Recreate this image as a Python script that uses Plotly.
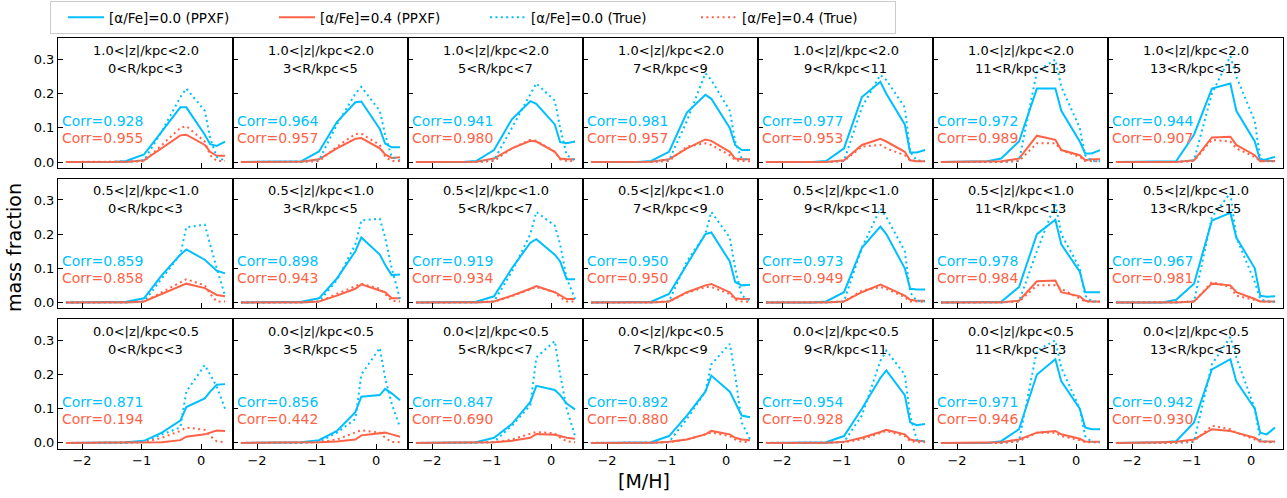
import plotly.graph_objects as go

# ---------------- data ----------------
MH = [-2.27, -1.79, -1.49, -1.26, -0.96, -0.66, -0.35, -0.25, 0.06, 0.15, 0.26, 0.40]

z_labels = ["1.0&lt;|z|/kpc&lt;2.0", "0.5&lt;|z|/kpc&lt;1.0", "0.0&lt;|z|/kpc&lt;0.5"]
R_labels = ["0&lt;R/kpc&lt;3", "3&lt;R/kpc&lt;5", "5&lt;R/kpc&lt;7", "7&lt;R/kpc&lt;9",
            "9&lt;R/kpc&lt;11", "11&lt;R/kpc&lt;13", "13&lt;R/kpc&lt;15"]

# row 1 : 1.0<|z|<2.0
ppxf_a00_row1 = [
    [0, 0, 0, 0.003, 0.022, 0.09, 0.16, 0.16, 0.08, 0.052, 0.047, 0.06],
    [0, 0, 0, 0.002, 0.031, 0.117, 0.175, 0.177, 0.097, 0.054, 0.043, 0.043],
    [0, 0, 0, 0.003, 0.035, 0.125, 0.178, 0.17, 0.11, 0.058, 0.055, 0.06],
    [0, 0, 0, 0.003, 0.03, 0.145, 0.197, 0.185, 0.1, 0.05, 0.035, 0.035],
    [0, 0, 0, 0.003, 0.04, 0.19, 0.235, 0.2, 0.11, 0.028, 0.028, 0.035],
    [0, 0, 0.002, 0.01, 0.06, 0.215, 0.215, 0.15, 0.06, 0.025, 0.025, 0.035],
    [0, 0, 0, 0.002, 0.08, 0.215, 0.23, 0.15, 0.06, 0.005, 0.008, 0.015],
]
true_a00_row1 = [
    [0, 0, 0, 0, 0.005, 0.09, 0.19, 0.215, 0.15, 0.07, 0.015, 0.003],
    [0, 0, 0, 0, 0.005, 0.11, 0.2, 0.22, 0.15, 0.08, 0.015, 0.005],
    [0, 0, 0, 0, 0.005, 0.1, 0.2, 0.23, 0.18, 0.1, 0.02, 0.005],
    [0, 0, 0, 0, 0.005, 0.12, 0.26, 0.24, 0.15, 0.06, 0.01, 0.005],
    [0, 0, 0, 0, 0.003, 0.16, 0.255, 0.24, 0.16, 0.03, 0.005, 0.003],
    [0, 0, 0, 0, 0.003, 0.265, 0.3, 0.22, 0.1, 0.02, 0.003, 0.002],
    [0, 0, 0, 0, 0.005, 0.2, 0.31, 0.25, 0.12, 0.01, 0.003, 0.002],
]
ppxf_a04_row1 = [
    [0, 0, 0, 0, 0.005, 0.04, 0.078, 0.08, 0.05, 0.03, 0.018, 0.018],
    [0, 0, 0, 0.001, 0.008, 0.04, 0.068, 0.07, 0.04, 0.022, 0.012, 0.014],
    [0, 0, 0, 0.001, 0.01, 0.04, 0.062, 0.06, 0.03, 0.01, 0.008, 0.008],
    [0, 0, 0, 0.001, 0.008, 0.04, 0.066, 0.062, 0.03, 0.01, 0.008, 0.008],
    [0, 0, 0, 0, 0.005, 0.05, 0.068, 0.06, 0.03, 0.005, 0.002, 0.002],
    [0, 0, 0, 0.002, 0.01, 0.077, 0.065, 0.035, 0.02, 0.005, 0.008, 0.008],
    [0, 0, 0, 0, 0.005, 0.072, 0.074, 0.05, 0.02, 0.002, 0.003, 0.003],
]
true_a04_row1 = [
    [0, 0, 0, 0, 0.002, 0.05, 0.1, 0.105, 0.06, 0.02, 0.003, 0.003],
    [0, 0, 0, 0, 0.002, 0.045, 0.082, 0.083, 0.05, 0.015, 0.003, 0.003],
    [0, 0, 0, 0, 0.003, 0.04, 0.065, 0.062, 0.03, 0.008, 0.003, 0.003],
    [0, 0, 0, 0, 0.003, 0.045, 0.055, 0.05, 0.02, 0.005, 0.003, 0.002],
    [0, 0, 0, 0, 0.003, 0.045, 0.05, 0.04, 0.02, 0.005, 0.003, 0.002],
    [0, 0, 0, 0, 0.003, 0.055, 0.055, 0.035, 0.015, 0.003, 0.003, 0.002],
    [0, 0, 0, 0, 0.003, 0.065, 0.06, 0.04, 0.015, 0.003, 0.002, 0.002],
]

# row 2 : 0.5<|z|<1.0
ppxf_a00_row2 = [
    [0, 0, 0, 0.002, 0.012, 0.08, 0.14, 0.155, 0.125, 0.11, 0.093, 0.085],
    [0, 0, 0, 0.002, 0.012, 0.07, 0.15, 0.19, 0.14, 0.11, 0.08, 0.082],
    [0, 0, 0, 0.002, 0.018, 0.1, 0.175, 0.185, 0.14, 0.12, 0.068, 0.068],
    [0, 0, 0, 0.002, 0.025, 0.11, 0.2, 0.205, 0.12, 0.06, 0.05, 0.052],
    [0, 0, 0, 0.003, 0.03, 0.16, 0.222, 0.2, 0.1, 0.04, 0.038, 0.038],
    [0, 0, 0, 0.002, 0.045, 0.2, 0.242, 0.17, 0.09, 0.03, 0.03, 0.03],
    [0, 0, 0, 0.008, 0.055, 0.24, 0.262, 0.19, 0.1, 0.02, 0.017, 0.018],
]
true_a00_row2 = [
    [0, 0, 0, 0, 0.003, 0.07, 0.14, 0.22, 0.228, 0.17, 0.1, 0.02],
    [0, 0, 0, 0, 0.003, 0.065, 0.17, 0.24, 0.245, 0.19, 0.1, 0.01],
    [0, 0, 0, 0, 0.003, 0.09, 0.2, 0.265, 0.225, 0.17, 0.07, 0.01],
    [0, 0, 0, 0, 0.003, 0.12, 0.2, 0.265, 0.19, 0.1, 0.02, 0.005],
    [0, 0, 0, 0, 0.003, 0.16, 0.275, 0.25, 0.15, 0.03, 0.005, 0.003],
    [0, 0, 0, 0, 0.003, 0.15, 0.29, 0.2, 0.1, 0.02, 0.003, 0.002],
    [0, 0, 0, 0, 0.003, 0.25, 0.32, 0.19, 0.06, 0.01, 0.003, 0.002],
]
ppxf_a04_row2 = [
    [0, 0, 0, 0, 0.003, 0.025, 0.048, 0.055, 0.042, 0.033, 0.022, 0.018],
    [0, 0, 0, 0, 0.003, 0.02, 0.04, 0.053, 0.035, 0.03, 0.012, 0.012],
    [0, 0, 0, 0, 0.003, 0.02, 0.04, 0.048, 0.03, 0.022, 0.01, 0.01],
    [0, 0, 0, 0, 0.003, 0.03, 0.05, 0.054, 0.03, 0.012, 0.01, 0.01],
    [0, 0, 0, 0, 0.003, 0.03, 0.052, 0.045, 0.02, 0.008, 0.005, 0.005],
    [0, 0, 0, 0, 0.005, 0.062, 0.064, 0.03, 0.018, 0.005, 0.003, 0.003],
    [0, 0, 0, 0, 0.003, 0.055, 0.05, 0.03, 0.01, 0.003, 0.003, 0.003],
]
true_a04_row2 = [
    [0, 0, 0, 0, 0.002, 0.03, 0.06, 0.068, 0.05, 0.025, 0.003, 0.003],
    [0, 0, 0, 0, 0.002, 0.025, 0.048, 0.055, 0.04, 0.025, 0.005, 0.003],
    [0, 0, 0, 0, 0.002, 0.018, 0.04, 0.045, 0.03, 0.015, 0.003, 0.003],
    [0, 0, 0, 0, 0.002, 0.028, 0.045, 0.045, 0.025, 0.008, 0.003, 0.002],
    [0, 0, 0, 0, 0.002, 0.035, 0.045, 0.04, 0.015, 0.003, 0.003, 0.002],
    [0, 0, 0, 0, 0.002, 0.05, 0.05, 0.04, 0.01, 0.003, 0.002, 0.002],
    [0, 0, 0, 0, 0.002, 0.06, 0.045, 0.02, 0.008, 0.003, 0.002, 0.002],
]

# row 3 : 0.0<|z|<0.5
ppxf_a00_row3 = [
    [0, 0, 0, 0.002, 0.006, 0.03, 0.065, 0.105, 0.13, 0.15, 0.17, 0.172],
    [0, 0, 0, 0.002, 0.008, 0.035, 0.09, 0.135, 0.14, 0.158, 0.145, 0.125],
    [0, 0, 0, 0.002, 0.015, 0.055, 0.12, 0.167, 0.155, 0.14, 0.115, 0.098],
    [0, 0, 0, 0.002, 0.02, 0.08, 0.15, 0.197, 0.15, 0.12, 0.08, 0.075],
    [0, 0, 0, 0.002, 0.02, 0.1, 0.19, 0.212, 0.14, 0.06, 0.052, 0.055],
    [0, 0, 0, 0.005, 0.04, 0.2, 0.245, 0.18, 0.1, 0.045, 0.04, 0.04],
    [0, 0, 0.002, 0.005, 0.06, 0.215, 0.245, 0.18, 0.1, 0.03, 0.025, 0.045],
]
true_a00_row3 = [
    [0, 0, 0, 0, 0.003, 0.025, 0.045, 0.15, 0.228, 0.2, 0.165, 0.1],
    [0, 0, 0, 0, 0.003, 0.03, 0.07, 0.2, 0.278, 0.19, 0.115, 0.045],
    [0, 0, 0, 0, 0.003, 0.05, 0.11, 0.25, 0.298, 0.2, 0.1, 0.02],
    [0, 0, 0, 0, 0.003, 0.07, 0.15, 0.23, 0.29, 0.2, 0.06, 0.01],
    [0, 0, 0, 0, 0.003, 0.08, 0.24, 0.27, 0.2, 0.08, 0.01, 0.003],
    [0, 0, 0, 0, 0.005, 0.27, 0.3, 0.22, 0.1, 0.02, 0.003, 0.002],
    [0, 0, 0, 0, 0.003, 0.23, 0.31, 0.25, 0.1, 0.01, 0.003, 0.002],
]
ppxf_a04_row3 = [
    [0, 0, 0, 0, 0.001, 0.002, 0.008, 0.018, 0.025, 0.03, 0.036, 0.035],
    [0, 0, 0, 0, 0.002, 0.004, 0.01, 0.022, 0.028, 0.03, 0.025, 0.018],
    [0, 0, 0, 0, 0.002, 0.006, 0.015, 0.026, 0.024, 0.02, 0.015, 0.012],
    [0, 0, 0, 0, 0.003, 0.01, 0.025, 0.035, 0.025, 0.015, 0.01, 0.008],
    [0, 0, 0, 0, 0.003, 0.015, 0.032, 0.038, 0.025, 0.01, 0.006, 0.005],
    [0, 0, 0, 0.002, 0.01, 0.03, 0.035, 0.025, 0.012, 0.004, 0.003, 0.003],
    [0, 0, 0.002, 0.003, 0.01, 0.04, 0.035, 0.03, 0.015, 0.005, 0.004, 0.004],
]
true_a04_row3 = [
    [0, 0, 0, 0, 0.002, 0.015, 0.035, 0.045, 0.038, 0.02, 0.005, 0.002],
    [0, 0, 0, 0, 0.002, 0.01, 0.03, 0.037, 0.03, 0.015, 0.003, 0.002],
    [0, 0, 0, 0, 0.002, 0.01, 0.025, 0.032, 0.028, 0.015, 0.005, 0.002],
    [0, 0, 0, 0, 0.002, 0.01, 0.025, 0.03, 0.02, 0.01, 0.003, 0.002],
    [0, 0, 0, 0, 0.002, 0.01, 0.03, 0.035, 0.02, 0.005, 0.002, 0.002],
    [0, 0, 0, 0, 0.005, 0.03, 0.03, 0.02, 0.008, 0.002, 0.002, 0.002],
    [0, 0, 0, 0, 0.005, 0.05, 0.04, 0.03, 0.01, 0.003, 0.002, 0.002],
]

corr_a00 = [
    [0.928, 0.964, 0.941, 0.981, 0.977, 0.972, 0.944],
    [0.859, 0.898, 0.919, 0.950, 0.973, 0.978, 0.967],
    [0.871, 0.856, 0.847, 0.892, 0.954, 0.971, 0.942],
]
corr_a04 = [
    [0.955, 0.957, 0.980, 0.957, 0.953, 0.989, 0.907],
    [0.858, 0.943, 0.934, 0.950, 0.949, 0.984, 0.981],
    [0.194, 0.442, 0.690, 0.880, 0.928, 0.946, 0.930],
]

x_ticks = [-2, -1, 0]
y_ticks = [0.0, 0.1, 0.2, 0.3]

ppxf_a00 = [ppxf_a00_row1, ppxf_a00_row2, ppxf_a00_row3]
true_a00 = [true_a00_row1, true_a00_row2, true_a00_row3]
ppxf_a04 = [ppxf_a04_row1, ppxf_a04_row2, ppxf_a04_row3]
true_a04 = [true_a04_row1, true_a04_row2, true_a04_row3]

# ---------------- layout ----------------
W, H = 1287, 498
FONT = "DejaVu Sans"
BLUE = "#00BFFF"
RED = "#FF6347"
LW = 2.0
DOT = "2px,3.4px"

X0, PW = 58.0, 175.0      # panel left / width (px)
Y0, PH, DY = 38.5, 130.0, 141.0

fig = go.Figure()
annotations = []
layout_axes = {}

series = [
    ("[α/Fe]=0.0 (PPXF)", ppxf_a00, BLUE, "solid"),
    ("[α/Fe]=0.4 (PPXF)", ppxf_a04, RED, "solid"),
    ("[α/Fe]=0.0 (True)", true_a00, BLUE, DOT),
    ("[α/Fe]=0.4 (True)", true_a04, RED, DOT),
]

for r in range(3):
    for c in range(7):
        k = r * 7 + c + 1
        xs = "x" if k == 1 else f"x{k}"
        ys = "y" if k == 1 else f"y{k}"
        for name, data, col, dash in series:
            fig.add_trace(go.Scatter(
                x=MH, y=data[r][c], mode="lines", name=name,
                line=dict(color=col, width=LW, dash=dash),
                xaxis=xs, yaxis=ys, showlegend=(k == 1), hoverinfo="skip"))

        left = X0 + PW * c
        top = Y0 + DY * r
        xd = [left / W, (left + PW) / W]
        yd = [1 - (top + PH) / H, 1 - top / H]
        xname = "xaxis" if k == 1 else f"xaxis{k}"
        yname = "yaxis" if k == 1 else f"yaxis{k}"
        layout_axes[xname] = dict(
            domain=xd, anchor=ys, range=[-2.4035, 0.5335],
            tickmode="array", tickvals=x_ticks,
            ticks="inside", ticklen=5, tickwidth=1, tickcolor="black",
            showline=True, mirror=True, linecolor="black", linewidth=1,
            showgrid=False, zeroline=False, showticklabels=(r == 2),
            tickfont=dict(family=FONT, size=13, color="black"))
        layout_axes[yname] = dict(
            domain=yd, anchor=xs, range=[-0.017, 0.362],
            tickmode="array", tickvals=y_ticks, tickformat=".1f",
            ticks="inside", ticklen=5, tickwidth=1, tickcolor="black",
            showline=True, mirror=True, linecolor="black", linewidth=1,
            showgrid=False, zeroline=False, showticklabels=(c == 0),
            tickfont=dict(family=FONT, size=13, color="black"))

        xr = f"{xs} domain"
        yr = f"{ys} domain"
        annotations.append(dict(text=z_labels[r], xref=xr, yref=yr, x=0.5, y=1 - 12 / PH,
                                xanchor="center", yanchor="middle", showarrow=False,
                                font=dict(family=FONT, size=13, color="black")))
        annotations.append(dict(text=R_labels[c], xref=xr, yref=yr, x=0.5, y=1 - 30 / PH,
                                xanchor="center", yanchor="middle", showarrow=False,
                                font=dict(family=FONT, size=13, color="black")))
        annotations.append(dict(text=f"Corr={corr_a00[r][c]:.3f}", xref=xr, yref=yr,
                                x=2 / PW, y=1 - 83 / PH, xanchor="left", yanchor="middle",
                                showarrow=False, font=dict(family=FONT, size=14, color=BLUE)))
        annotations.append(dict(text=f"Corr={corr_a04[r][c]:.3f}", xref=xr, yref=yr,
                                x=2 / PW, y=1 - 100 / PH, xanchor="left", yanchor="middle",
                                showarrow=False, font=dict(family=FONT, size=14, color=RED)))

annotations.append(dict(text="mass fraction", xref="paper", yref="paper", x=14 / W, y=0.5,
                        textangle=-90, xanchor="center", yanchor="middle", showarrow=False,
                        font=dict(family=FONT, size=19, color="black")))
annotations.append(dict(text="[M/H]", xref="paper", yref="paper", x=0.5, y=1 - 483 / H,
                        xanchor="center", yanchor="middle", showarrow=False,
                        font=dict(family=FONT, size=19, color="black")))

fig.update_layout(
    width=W, height=H, margin=dict(l=0, r=0, t=0, b=0),
    paper_bgcolor="white", plot_bgcolor="white",
    font=dict(family=FONT, color="black"),
    annotations=annotations,
    legend=dict(orientation="h", x=50 / W, y=1 - 1 / H, xanchor="left", yanchor="top",
                bordercolor="#cccccc", borderwidth=1, bgcolor="white",
                font=dict(family=FONT, size=13.5, color="black"),
                itemwidth=36, entrywidth=148, entrywidthmode="pixels",
                indentation=12),
    **layout_axes,
)

fig.write_html("out.html")
